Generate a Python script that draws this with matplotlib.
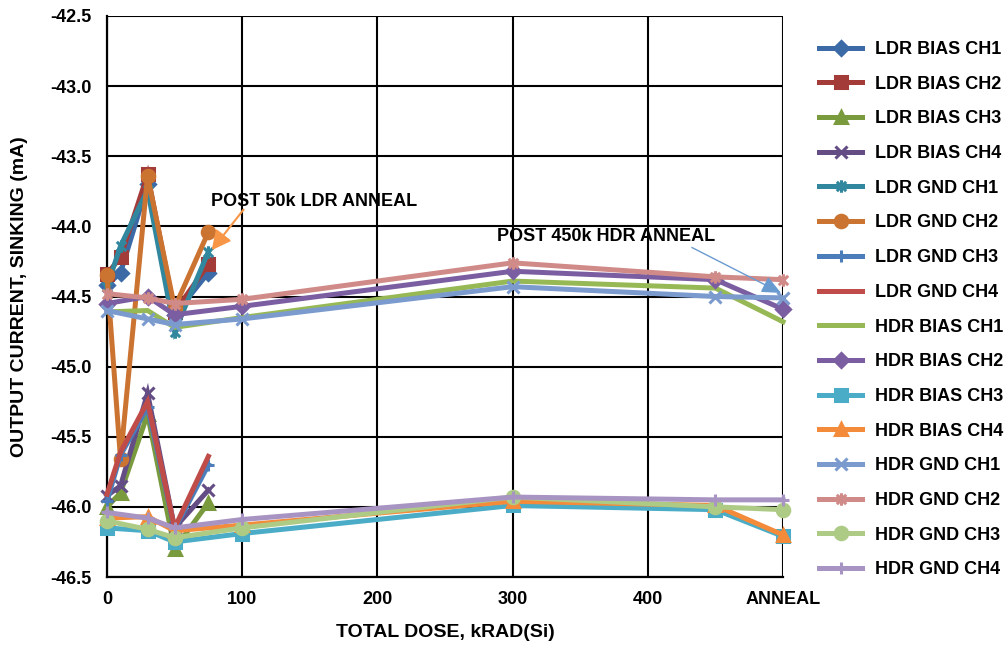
import matplotlib
matplotlib.use("Agg")
import matplotlib.pyplot as plt
from matplotlib.path import Path

plt.rcParams['font.family'] = ['Liberation Sans', 'DejaVu Sans']
plt.rcParams['font.weight'] = 'bold'

# ---------------- data ----------------
ldr_x = [0, 10, 30, 50, 75]
hdr_x = [0, 30, 50, 100, 300, 450, 500]   # 500 = ANNEAL

ldr_bias_ch1 = [-44.42, -44.33, -43.70, -44.63, -44.33]
ldr_bias_ch2 = [-44.34, -44.22, -43.63, -44.61, -44.27]
ldr_bias_ch3 = [-46.00, -45.90, -45.34, -46.30, -45.97]
ldr_bias_ch4 = [-45.92, -45.85, -45.19, -46.15, -45.88]
ldr_gnd_ch1 = [-44.43, -44.14, -43.74, -44.75, -44.18]
ldr_gnd_ch2 = [-44.35, -45.66, -43.64, -44.58, -44.04]
ldr_gnd_ch3 = [-45.96, -45.63, -45.29, -46.16, -45.70]
ldr_gnd_ch4 = [-45.91, -45.61, -45.25, -46.15, -45.64]

hdr_bias_ch1 = [-44.61, -44.60, -44.72, -44.65, -44.39, -44.44, -44.68]
hdr_bias_ch2 = [-44.55, -44.50, -44.63, -44.57, -44.32, -44.38, -44.59]
hdr_bias_ch3 = [-46.15, -46.17, -46.25, -46.19, -45.99, -46.02, -46.21]
hdr_bias_ch4 = [-46.08, -46.07, -46.17, -46.13, -45.96, -45.99, -46.20]
hdr_gnd_ch1 = [-44.60, -44.66, -44.70, -44.66, -44.43, -44.50, -44.51]
hdr_gnd_ch2 = [-44.48, -44.51, -44.55, -44.52, -44.26, -44.36, -44.38]
hdr_gnd_ch3 = [-46.10, -46.16, -46.22, -46.15, -45.93, -46.00, -46.02]
hdr_gnd_ch4 = [-46.04, -46.08, -46.15, -46.09, -45.93, -45.95, -45.95]

x_ticks = [0, 100, 200, 300, 400, 500]
x_tick_labels = ["0", "100", "200", "300", "400", "ANNEAL"]
y_ticks = [-46.5, -46.0, -45.5, -45.0, -44.5, -44.0, -43.5, -43.0, -42.5]

# ---------------- styles ----------------
star = Path([(0, -1), (0, 1), (-0.75, -0.75), (0.75, 0.75), (-0.75, 0.75), (0.75, -0.75)],
            [Path.MOVETO, Path.LINETO] * 3)

series = [
    ("LDR BIAS CH1", ldr_x, ldr_bias_ch1, '#3C6AA6', 'D', 7),
    ("LDR BIAS CH2", ldr_x, ldr_bias_ch2, '#A33B39', 's', 8),
    ("LDR BIAS CH3", ldr_x, ldr_bias_ch3, '#7A9A3E', '^', 9),
    ("LDR BIAS CH4", ldr_x, ldr_bias_ch4, '#644C85', 'x', 9),
    ("LDR GND CH1", ldr_x, ldr_gnd_ch1, '#31879E', star, 9),
    ("LDR GND CH2", ldr_x, ldr_gnd_ch2, '#CB7331', 'o', 9),
    ("LDR GND CH3", ldr_x, ldr_gnd_ch3, '#4A7DBA', '+', 9),
    ("LDR GND CH4", ldr_x, ldr_gnd_ch4, '#BF4C49', None, 0),
    ("HDR BIAS CH1", hdr_x, hdr_bias_ch1, '#97B955', None, 0),
    ("HDR BIAS CH2", hdr_x, hdr_bias_ch2, '#7B5EA1', 'D', 7),
    ("HDR BIAS CH3", hdr_x, hdr_bias_ch3, '#4AACC6', 's', 8),
    ("HDR BIAS CH4", hdr_x, hdr_bias_ch4, '#F38B3A', '^', 9),
    ("HDR GND CH1", hdr_x, hdr_gnd_ch1, '#7B9BCF', 'x', 9),
    ("HDR GND CH2", hdr_x, hdr_gnd_ch2, '#D08A88', star, 9),
    ("HDR GND CH3", hdr_x, hdr_gnd_ch3, '#AECB86', 'o', 9),
    ("HDR GND CH4", hdr_x, hdr_gnd_ch4, '#A894C2', '+', 9),
]

fig = plt.figure(figsize=(10.05, 6.45), dpi=100)
ax = fig.add_axes([107 / 1005, 1 - 577 / 645, (783 - 107) / 1005, (577 - 16) / 645])

for name, xs, ys, col, mk, ms in series:
    ax.plot(xs, ys, color=col, lw=3.6, marker=mk, markersize=ms,
            markerfacecolor=col, markeredgecolor=col, markeredgewidth=2.2,
            solid_joinstyle='miter', label=name, clip_on=False, zorder=3)

ax.set_xlim(0, 500)
ax.set_ylim(-46.5, -42.5)
ax.set_xticks(x_ticks)
ax.set_xticklabels(x_tick_labels)
ax.set_yticks(y_ticks)
ax.set_yticklabels([f"{v:.1f}" for v in y_ticks])
ax.tick_params(axis='both', length=0, labelsize=13)
ax.tick_params(axis='y', pad=11)
ax.tick_params(axis='x', pad=10)
ax.grid(True, color='black', lw=1.5, zorder=0)
for side in ['top', 'right']:
    ax.spines[side].set_visible(False)
for side in ['left', 'bottom']:
    ax.spines[side].set_color('black')
    ax.spines[side].set_linewidth(1.6)

ax.set_xlabel("TOTAL DOSE, kRAD(Si)", fontsize=14, fontweight='bold')
ax.xaxis.set_label_coords(0.5, -0.084)
ax.set_ylabel("OUTPUT CURRENT, SINKING (mA)", fontsize=14, fontweight='bold')
ax.yaxis.set_label_coords(-0.117, 0.5)

ax.annotate("POST 50k LDR ANNEAL", xy=(77.4, -44.17), xytext=(76.6, -43.82),
            fontsize=13, fontweight='bold', ha='left', va='center',
            arrowprops=dict(arrowstyle='-|>,head_length=0.9,head_width=0.45',
                            color='#F79646', lw=1.5, shrinkA=0, shrinkB=0,
                            patchA=None, relpos=(0.16, 0.0)))
ax.annotate("POST 450k HDR ANNEAL", xy=(498.6, -44.475), xytext=(288.2, -44.07),
            fontsize=13, fontweight='bold', ha='left', va='center',
            arrowprops=dict(arrowstyle='-|>,head_length=0.9,head_width=0.4',
                            color='#6A9BD0', lw=1.0, shrinkA=0, shrinkB=0,
                            relpos=(0.87, 0.0)))

fig.legend(loc='upper left', bbox_to_anchor=(819 / 1005, 1 - 41 / 645),
           frameon=False, fontsize=13, borderpad=0, borderaxespad=0,
           handlelength=2.4, handletextpad=0.7, labelspacing=0.98, numpoints=1)

fig.savefig("out.png", dpi=100)
